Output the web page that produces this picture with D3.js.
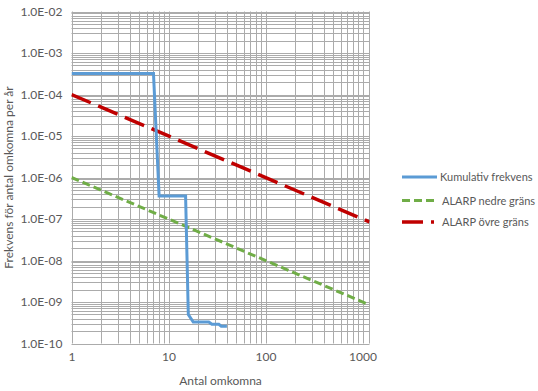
<!DOCTYPE html>
<html>
<head>
<meta charset="utf-8">
<script src="https://cdn.jsdelivr.net/npm/d3@7"></script>
<style>
  html, body { margin: 0; padding: 0; background: #fff; }
  svg { display: block; font-family: Lato, "Open Sans", sans-serif; }
</style>
</head>
<body>
<svg id="chart" width="538" height="391"></svg>
<script>
// ---- data ----
const kumX = [1, 7, 8, 15, 16, 18, 26, 28, 33, 35, 40];
const kumY = [3.2e-4, 3.2e-4, 3.6e-7, 3.6e-7, 5.0e-10, 3.3e-10, 3.3e-10, 2.9e-10, 2.9e-10, 2.6e-10, 2.6e-10];
const alarpX = [1, 1180];
const nedreY = [1e-6, 1e-6 / 1180];
const ovreY = [1e-4, 1e-4 / 1180];
const xTicks = [1, 10, 100, 1000];
const yTicks = [1e-10, 1e-9, 1e-8, 1e-7, 1e-6, 1e-5, 1e-4, 1e-3, 1e-2];
const seriesNames = ["Kumulativ frekvens", "ALARP nedre gräns", "ALARP övre gräns"];

const svg = d3.select("#chart");
const L = 71.5, R = 369.5, T = 11.5, B = 343.5;
const x = d3.scaleLog().domain([1, 1180]).range([L, R]);
const y = d3.scaleLog().domain([1e-10, 1e-2]).range([B, T]);

const gridColor = "#ababab";

// minor + major grid
const xGrid = [];
for (let d = 1; d <= 1000; d *= 10) for (let m = 1; m <= 9; m++) { const v = d * m; if (v <= 1180) xGrid.push(v); }
const yGrid = [];
for (let e = -10; e < -2; e++) for (let m = 1; m <= 9; m++) yGrid.push(m * Math.pow(10, e));
yGrid.push(1e-2);

const g = svg.append("g");
g.selectAll(".gx").data(xGrid).join("line")
  .attr("x1", d => Math.round(x(d)) + 0.5).attr("x2", d => Math.round(x(d)) + 0.5)
  .attr("y1", T).attr("y2", B).attr("stroke", gridColor).attr("stroke-width", 1);
g.selectAll(".gy").data(yGrid).join("line")
  .attr("y1", d => Math.round(y(d)) + 0.5).attr("y2", d => Math.round(y(d)) + 0.5)
  .attr("x1", L).attr("x2", R).attr("stroke", gridColor).attr("stroke-width", 1);
// right border
g.append("line").attr("x1", R).attr("x2", R).attr("y1", T).attr("y2", B).attr("stroke", gridColor);

// axes (labels only)
const fmtE = v => {
  const e = Math.round(Math.log10(v));
  const s = e < 0 ? "-" : "+";
  return "1.0E" + s + String(Math.abs(e)).padStart(2, "0");
};
const yAxis = d3.axisLeft(y).tickValues(yTicks).tickFormat(fmtE).tickSize(0).tickPadding(9);
const ya = svg.append("g").attr("transform", `translate(${L},0)`).call(yAxis);
ya.select(".domain").remove();
ya.selectAll("text").attr("fill", "#595959").attr("font-size", "12px").attr("font-family", "Lato, sans-serif");

const xAxis = d3.axisBottom(x).tickValues(xTicks).tickFormat(d3.format("d")).tickSize(0).tickPadding(9);
const xa = svg.append("g").attr("transform", `translate(0,${B})`).call(xAxis);
xa.select(".domain").remove();
xa.selectAll("text").attr("fill", "#595959").attr("font-size", "12px").attr("font-family", "Lato, sans-serif");

// axis titles
svg.append("text").attr("x", (L + R) / 2).attr("y", 385).attr("text-anchor", "middle")
  .attr("fill", "#595959").attr("font-size", "12px").text("Antal omkomna");
svg.append("text").attr("transform", `translate(13,${(T + B) / 2}) rotate(-90)`).attr("text-anchor", "middle")
  .attr("fill", "#595959").attr("font-size", "12px").text("Frekvens för antal omkomna per år");

// clip
svg.append("clipPath").attr("id", "clip").append("rect").attr("x", L).attr("y", T).attr("width", R - L).attr("height", B - T);

const line = d3.line().x(d => x(d[0])).y(d => y(d[1]));
const plot = svg.append("g").attr("clip-path", "url(#clip)");

plot.append("path").datum(alarpX.map((v, i) => [v, nedreY[i]])).attr("d", line)
  .attr("fill", "none").attr("stroke", "#70ad47").attr("stroke-width", 3).attr("stroke-dasharray", "8,4");
plot.append("path").datum(alarpX.map((v, i) => [v, ovreY[i]])).attr("d", line)
  .attr("fill", "none").attr("stroke", "#c00000").attr("stroke-width", 3.5).attr("stroke-dasharray", "21,8");
plot.append("path").datum(kumX.map((v, i) => [v, kumY[i]])).attr("d", line)
  .attr("fill", "none").attr("stroke", "#5b9bd5").attr("stroke-width", 3).attr("stroke-linejoin", "miter");

// legend
const leg = svg.append("g");
const legY = [177, 200.5, 222];
const legStyles = [
  { c: "#5b9bd5", w: 3, dash: null, x2: 437, tx: 440 },
  { c: "#70ad47", w: 3, dash: "8,4", x2: 435, tx: 442 },
  { c: "#c00000", w: 3.5, dash: "21,8", x2: 434, tx: 442 }
];
seriesNames.forEach((n, i) => {
  const s = legStyles[i];
  const l = leg.append("line").attr("x1", 402).attr("x2", s.x2).attr("y1", legY[i]).attr("y2", legY[i])
    .attr("stroke", s.c).attr("stroke-width", s.w);
  if (s.dash) l.attr("stroke-dasharray", s.dash);
  leg.append("text").attr("x", s.tx).attr("y", legY[i] + 4).attr("fill", "#595959").attr("font-size", "11px").text(n);
});
</script>
</body>
</html>
